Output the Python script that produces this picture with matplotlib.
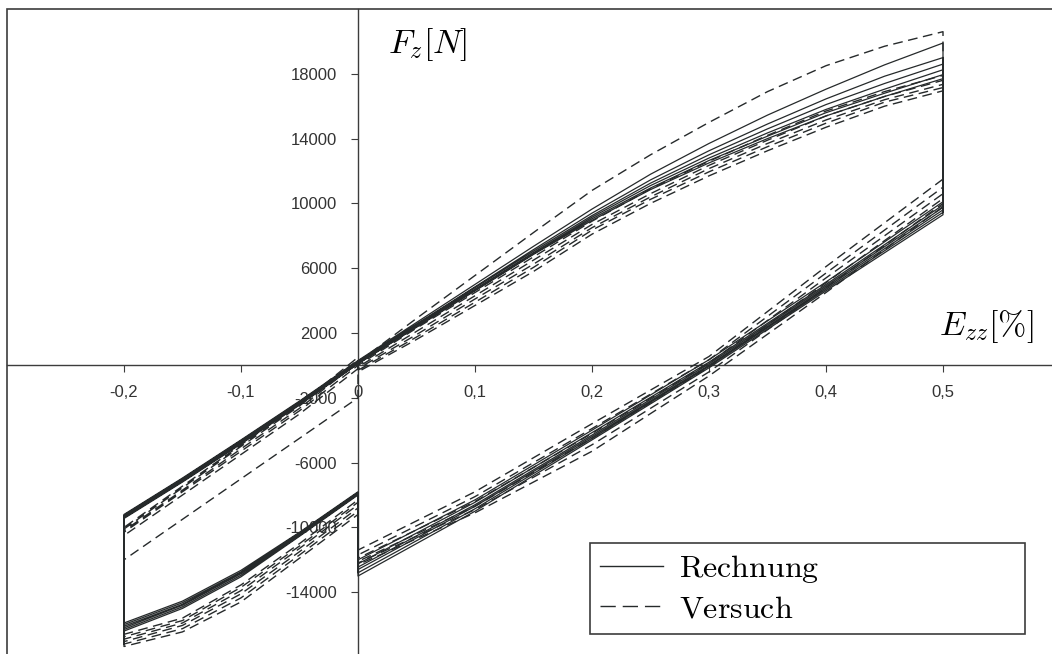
import matplotlib
matplotlib.use('Agg')
import matplotlib.pyplot as plt
from matplotlib.lines import Line2D
from matplotlib.patches import Rectangle

plt.rcParams['font.family'] = ['Liberation Sans', 'DejaVu Sans']
plt.rcParams['mathtext.fontset'] = 'cm'

# strain points [%] of the four branches of one cycle
strain_load = [0.0, 0.05, 0.1, 0.15, 0.2, 0.25, 0.3, 0.35, 0.4, 0.45, 0.5]
strain_unload = [0.5, 0.4, 0.3, 0.2, 0.1, 0.0]
strain_comp = [0.0, -0.05, -0.1, -0.15, -0.2]
strain_back = [-0.2, -0.15, -0.1, -0.05, 0.0]

# Rechnung (simulation), force [N] per cycle
rechnung_load = [
    [300, 2650, 5000, 7350, 9650, 11800, 13700, 15450, 17050, 18550, 19900],
    [250, 2550, 4850, 7150, 9400, 11450, 13250, 14900, 16450, 17850, 19000],
    [200, 2500, 4800, 7050, 9250, 11250, 13000, 14600, 16100, 17400, 18600],
    [150, 2450, 4700, 6950, 9150, 11100, 12800, 14350, 15800, 17050, 18250],
    [100, 2400, 4650, 6900, 9050, 10950, 12650, 14150, 15600, 16800, 17950],
    [100, 2350, 4600, 6850, 8950, 10850, 12500, 14000, 15400, 16600, 17700],
]
rechnung_unload = [
    [10100, 5150, 350, -4000, -8300, -12000],
    [9900, 5000, 200, -4150, -8450, -12250],
    [9750, 4900, 100, -4300, -8600, -12450],
    [9600, 4800, 0, -4400, -8700, -12600],
    [9450, 4700, -50, -4500, -8850, -12800],
    [9300, 4600, -150, -4600, -9000, -13000],
]
rechnung_comp = [
    [-7800, -10300, -12650, -14550, -15900],
    [-7850, -10350, -12750, -14650, -16000],
    [-7900, -10400, -12800, -14750, -16100],
    [-7900, -10450, -12850, -14800, -16200],
    [-7950, -10500, -12950, -14900, -16300],
    [-8000, -10550, -13050, -15000, -16400],
]
rechnung_back = [
    [-9200, -6950, -4600, -2200, 300],
    [-9250, -7000, -4650, -2250, 250],
    [-9300, -7050, -4700, -2300, 200],
    [-9350, -7100, -4750, -2350, 150],
    [-9400, -7150, -4800, -2400, 100],
    [-9450, -7200, -4850, -2450, 100],
]

# Versuch (experiment), force [N] per cycle
versuch_load = [
    [200, 2900, 5550, 8200, 10800, 13000, 15000, 16900, 18500, 19700, 20600],
    [0, 2300, 4500, 6700, 8900, 10900, 12600, 14200, 15700, 16900, 17900],
    [-100, 2100, 4300, 6500, 8700, 10600, 12350, 13900, 15400, 16600, 17600],
    [-200, 1900, 4100, 6250, 8500, 10400, 12150, 13700, 15150, 16400, 17350],
    [-300, 1750, 3900, 6050, 8350, 10250, 11950, 13500, 14950, 16250, 17150],
    [-400, 1600, 3700, 5800, 8100, 10000, 11700, 13250, 14700, 16000, 16950],
]
versuch_unload = [
    [11500, 6100, 550, -3600, -7800, -11400],
    [11000, 5700, 350, -3900, -8100, -11700],
    [10600, 5400, 150, -4200, -8400, -11900],
    [10300, 5100, -100, -4500, -8700, -12100],
    [10000, 4800, -400, -4900, -8900, -12200],
    [9800, 4500, -650, -5300, -9100, -12300],
]
versuch_comp = [
    [-8300, -11000, -13550, -15600, -16600],
    [-8450, -11150, -13700, -15750, -16750],
    [-8600, -11300, -13900, -15900, -16900],
    [-8800, -11500, -14100, -16050, -17050],
    [-9000, -11700, -14350, -16250, -17200],
    [-9200, -11900, -14600, -16450, -17350],
]
versuch_back = [
    [-12000, -9500, -7000, -4500, -2000],
    [-10500, -8000, -5500, -3000, -200],
    [-10300, -7800, -5300, -2800, 0],
    [-10200, -7700, -5150, -2650, 200],
    [-10100, -7550, -5000, -2500, 350],
    [-10000, -7450, -4900, -2400, 500],
]

x_ticks = [-0.2, -0.1, 0.0, 0.1, 0.2, 0.3, 0.4, 0.5]
x_labels = ['-0,2', '-0,1', '0', '0,1', '0,2', '0,3', '0,4', '0,5']
y_ticks = [-14000, -10000, -6000, -2000, 2000, 6000, 10000, 14000, 18000]
y_labels = [str(v) for v in y_ticks]

ink = '#262a2b'
axis_col = '#3c3c3c'


def build_path(load, unload, comp, back):
    # all cycles joined, the holds are the vertical jumps between branches
    xs, ys = [], []
    for i in range(len(load)):
        xs += strain_load + strain_unload + strain_comp + strain_back
        ys += load[i] + unload[i] + comp[i] + back[i]
    return xs, ys


fig = plt.figure(figsize=(10.52, 6.54), dpi=100)
ax = fig.add_axes([7 / 1052, -3 / 654, 1053 / 1052, 648 / 654])
ax.set_xlim(-0.3, 0.6)
ax.set_ylim(-18000, 22000)

xs, ys = build_path(rechnung_load, rechnung_unload, rechnung_comp, rechnung_back)
ax.plot(xs, ys, color=ink, lw=0.9, zorder=3)
xs, ys = build_path(versuch_load, versuch_unload, versuch_comp, versuch_back)
ax.plot(xs, ys, color=ink, lw=1.0, ls=(0, (7, 4)), zorder=3)

# axes through the origin
ax.spines['left'].set_position(('data', 0))
ax.spines['bottom'].set_position(('data', 0))
ax.spines['top'].set_visible(False)
ax.spines['right'].set_visible(False)
for s in ['left', 'bottom']:
    ax.spines[s].set_color(axis_col)
    ax.spines[s].set_linewidth(1.0)
ax.add_patch(Rectangle((0, 0), 1, 1, transform=ax.transAxes, fill=False,
                       ec=axis_col, lw=1.2, clip_on=False))

ax.set_xticks(x_ticks, x_labels)
ax.set_yticks(y_ticks, y_labels)
ax.tick_params(axis='x', direction='out', length=5, pad=9, labelsize=12,
               color=axis_col, labelcolor='#333333')
ax.tick_params(axis='y', direction='out', length=5, pad=10, labelsize=12,
               color=axis_col, labelcolor='#333333')

fig.text(388 / 1052, 1 - 53 / 654, r'$F_z[N]$', fontsize=24.5, va='baseline', ha='left')
fig.text(939 / 1052, 1 - 335 / 654, r'$E_{zz}[\%]$', fontsize=24.5, va='baseline', ha='left')

handles = [Line2D([], [], color=ink, lw=1.0),
           Line2D([], [], color=ink, lw=1.0, ls=(0, (11, 5)))]
leg = ax.legend(handles, [r'$\mathrm{Rechnung}$', r'$\mathrm{Versuch}$'],
                loc='lower left', bbox_to_anchor=(590 / 1052, 20 / 654, 435 / 1052, 93 / 654),
                bbox_transform=fig.transFigure, mode='expand', fontsize=23,
                fancybox=False, framealpha=1, edgecolor=axis_col, borderaxespad=0,
                handlelength=2.0, handletextpad=0.5, labelspacing=0.3, borderpad=0.3)
leg.get_frame().set_linewidth(1.2)

fig.savefig('out.png', dpi=100)
